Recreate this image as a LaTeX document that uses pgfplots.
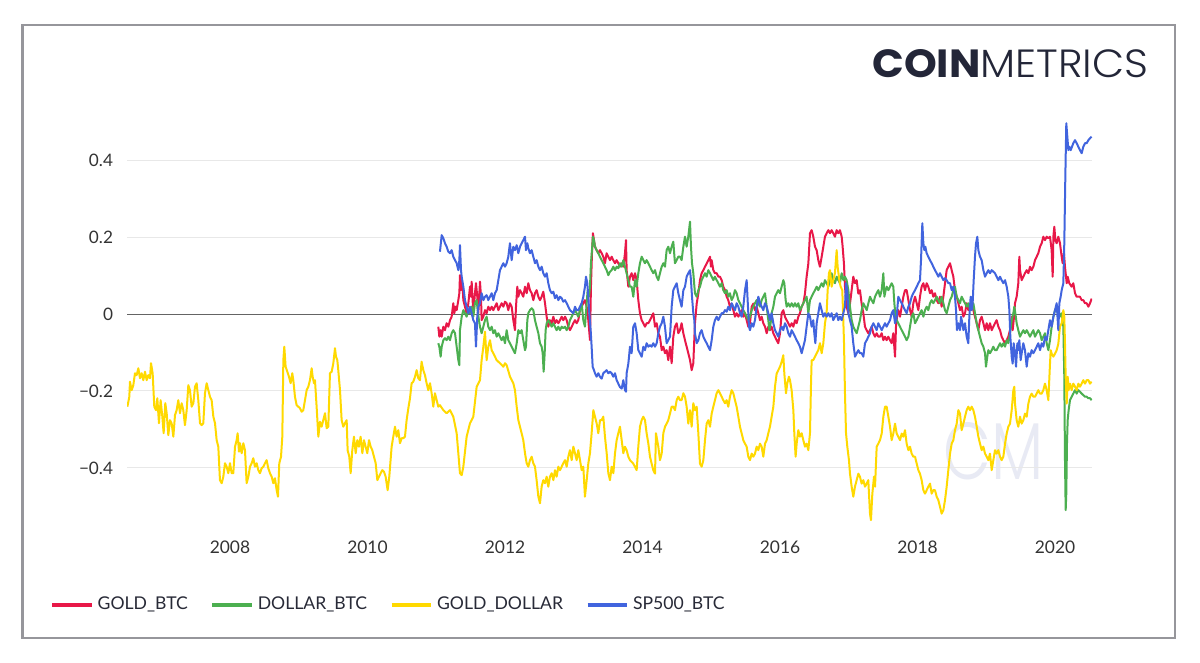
\documentclass[border=0pt]{standalone}
\usepackage{fontspec}
\usepackage{graphicx}
\setmainfont{Lato}
\newfontfamily\logofont{Poppins}
\IfFontExistsTF{Poppins Light}{\newfontfamily\logolight{Poppins Light}}{\newfontfamily\logolight{Poppins}}
\usepackage{pgfplots}
\pgfplotsset{compat=1.18}
\definecolor{cred}{RGB}{232,24,72}
\definecolor{cgreen}{RGB}{76,175,80}
\definecolor{cyellow}{RGB}{255,217,0}
\definecolor{cblue}{RGB}{65,100,222}
\definecolor{gridcol}{RGB}{232,232,232}
\definecolor{zerocol}{RGB}{100,100,100}
\definecolor{ticktext}{RGB}{51,51,51}
\definecolor{legtext}{RGB}{40,42,55}
\definecolor{framecol}{RGB}{150,150,155}
\definecolor{logocol}{RGB}{35,38,56}
\definecolor{wmcol}{RGB}{232,234,244}
\begin{document}
\begin{tikzpicture}[x=1pt,y=1pt]
\useasboundingbox (0,0) rectangle (600,331.5);
\fill[white] (0,0) rectangle (600,331.5);
\draw[color=framecol, line width=1.25pt] (11.25,12.5) rectangle (587.5,319);
\node[anchor=base west, inner sep=0pt, text=logocol] at (436,292.5) {\resizebox{138pt}{14pt}{{\logofont\bfseries COIN}{\logolight METRICS}}};
\node[anchor=south west, inner sep=0pt, text=wmcol] at (471.5,91.5) {\resizebox{50pt}{28.5pt}{\logolight CM}};
\begin{axis}[
  at={(63.5pt,66.8pt)}, anchor=south west,
  scale only axis, width=482.5pt, height=207.7pt,
  xmin=2006.502, xmax=2020.538, ymin=-0.56, ymax=0.52,
  axis line style={draw=none}, tick style={draw=none},
  xtick={2008,2010,2012,2014,2016,2018,2020},
  xticklabels={2008,2010,2012,2014,2016,2018,2020},
  xticklabel style={font=\fontsize{8.7}{10}\selectfont, text=ticktext, inner sep=0pt, anchor=north, yshift=-5.3pt},
  ytick={-0.4,-0.2,0.2,0.4},
  yticklabels={−0.4,−0.2,0.2,0.4},
  extra y ticks={0}, extra y tick labels={0},
  extra y tick style={grid style={color=zerocol, line width=0.5pt}},
  ymajorgrids, grid style={color=gridcol, line width=0.5pt},
  yticklabel style={font=\fontsize{8.6}{10}\selectfont, text=ticktext, inner sep=0pt, anchor=east, xshift=-6.8pt},
  legend columns=4,
  legend cell align=left,
  legend style={at={(-0.0800,-0.1815)}, anchor=west, draw=none, fill=none, inner sep=0pt,
    font=\fontsize{8.8}{10}\selectfont, text=legtext, nodes={inner sep=0pt},
    /tikz/every odd column/.append style={column sep=2pt},
    /tikz/every even column/.append style={column sep=11.25pt}},
  legend image code/.code={\draw[#1, line width=2pt, line cap=butt] (0pt,0pt) -- (19.75pt,0pt);},
]
\addplot[color=cred, line width=1pt, line join=round] coordinates {
(2011.030,-0.033)(2011.045,-0.059)(2011.064,-0.042)(2011.079,-0.059)(2011.103,-0.033)(2011.127,-0.042)(2011.151,-0.024)(2011.176,-0.033)(2011.200,-0.016)(2011.224,-0.007)(2011.248,0.028)(2011.263,0.002)(2011.282,0.019)(2011.297,0.010)(2011.321,0.036)(2011.336,0.054)(2011.345,0.101)(2011.360,0.062)(2011.370,0.088)(2011.384,0.071)(2011.394,0.036)(2011.418,0.019)(2011.442,0.002)(2011.467,0.028)(2011.491,0.071)(2011.505,0.045)(2011.515,0.084)(2011.529,0.036)(2011.539,0.002)(2011.563,0.054)(2011.578,0.080)(2011.597,0.045)(2011.612,0.002)(2011.636,0.084)(2011.651,0.045)(2011.660,-0.016)(2011.685,-0.007)(2011.709,0.010)(2011.733,0.002)(2011.757,0.019)(2011.782,0.010)(2011.806,0.019)(2011.830,0.010)(2011.854,0.019)(2011.879,0.028)(2011.903,0.010)(2011.927,0.019)(2011.951,0.028)(2011.976,0.019)(2012.000,0.032)(2012.024,0.028)(2012.048,0.010)(2012.072,0.028)(2012.097,0.019)(2012.121,-0.016)(2012.145,-0.042)(2012.160,0.019)(2012.179,0.071)(2012.194,0.045)(2012.218,0.062)(2012.242,0.054)(2012.266,0.045)(2012.291,0.071)(2012.315,0.054)(2012.339,0.080)(2012.363,0.062)(2012.388,0.054)(2012.412,0.036)(2012.436,0.054)(2012.460,0.062)(2012.485,0.045)(2012.509,0.036)(2012.533,0.045)(2012.557,0.058)(2012.582,0.028)(2012.606,-0.007)(2012.630,-0.033)(2012.654,-0.016)(2012.679,-0.024)(2012.703,-0.007)(2012.727,-0.024)(2012.751,-0.016)(2012.776,-0.024)(2012.800,-0.016)(2012.824,-0.007)(2012.848,-0.016)(2012.873,-0.007)(2012.897,-0.016)(2012.921,-0.033)(2012.945,-0.042)(2012.970,-0.033)(2012.994,-0.024)(2013.018,-0.016)(2013.042,-0.024)(2013.066,-0.016)(2013.091,0.010)(2013.115,0.019)(2013.139,0.028)(2013.163,0.036)(2013.188,0.019)(2013.212,-0.016)(2013.236,-0.068)(2013.250,0.071)(2013.265,0.158)(2013.279,0.210)(2013.294,0.192)(2013.309,0.175)(2013.333,0.166)(2013.357,0.158)(2013.381,0.166)(2013.406,0.158)(2013.430,0.149)(2013.454,0.132)(2013.478,0.158)(2013.503,0.149)(2013.527,0.140)(2013.551,0.149)(2013.575,0.140)(2013.600,0.132)(2013.624,0.140)(2013.648,0.132)(2013.672,0.123)(2013.697,0.132)(2013.721,0.123)(2013.745,0.158)(2013.760,0.192)(2013.769,0.114)(2013.794,0.071)(2013.818,0.097)
(2013.842,0.106)(2013.866,0.088)(2013.891,0.106)(2013.915,0.088)(2013.939,0.036)(2013.963,0.002)(2013.988,-0.016)(2014.012,-0.024)(2014.036,-0.033)(2014.060,-0.024)(2014.085,-0.024)(2014.109,-0.016)(2014.133,-0.007)(2014.157,0.002)(2014.182,-0.033)(2014.206,-0.024)(2014.230,-0.050)(2014.254,-0.059)(2014.279,-0.094)(2014.303,-0.085)(2014.327,-0.102)(2014.351,-0.094)(2014.375,-0.120)(2014.400,-0.085)(2014.424,-0.128)(2014.448,-0.059)(2014.472,-0.033)(2014.497,-0.024)(2014.521,-0.050)(2014.545,-0.042)(2014.569,-0.024)(2014.594,-0.050)(2014.618,-0.068)(2014.642,-0.085)(2014.666,-0.102)(2014.691,-0.120)(2014.715,-0.146)(2014.739,-0.128)(2014.763,-0.024)(2014.788,0.027)(2014.812,0.053)(2014.836,0.088)(2014.860,0.106)(2014.885,0.114)(2014.909,0.123)(2014.933,0.131)(2014.957,0.140)(2014.982,0.149)(2014.996,0.123)(2015.006,0.140)(2015.030,0.114)(2015.054,0.106)(2015.079,0.106)(2015.103,0.097)(2015.127,0.097)(2015.151,0.088)(2015.175,0.071)(2015.200,0.062)(2015.224,0.045)(2015.248,0.036)(2015.272,0.019)(2015.297,0.027)(2015.321,0.010)(2015.345,-0.007)(2015.369,0.002)(2015.394,-0.007)(2015.418,0.002)(2015.442,0.010)(2015.466,-0.007)(2015.491,0.002)(2015.515,-0.016)(2015.539,-0.033)(2015.563,-0.024)(2015.588,0.019)(2015.612,0.027)(2015.636,0.010)(2015.660,0.019)(2015.685,0.002)(2015.709,-0.016)(2015.733,-0.007)(2015.757,-0.024)(2015.782,-0.033)(2015.806,-0.050)(2015.830,-0.033)(2015.854,-0.042)(2015.878,-0.033)(2015.903,-0.050)(2015.927,-0.059)(2015.951,-0.068)(2015.975,-0.076)(2016.000,-0.050)(2016.024,0.002)(2016.048,0.010)(2016.072,-0.007)(2016.097,-0.016)(2016.121,-0.024)(2016.145,-0.033)(2016.169,-0.024)(2016.194,-0.033)(2016.218,-0.016)(2016.242,-0.024)(2016.266,-0.007)(2016.290,0.002)(2016.315,0.019)(2016.339,0.027)(2016.363,0.053)(2016.387,0.097)(2016.412,0.131)(2016.436,0.210)(2016.460,0.218)(2016.484,0.201)(2016.509,0.175)(2016.533,0.166)(2016.557,0.140)(2016.581,0.123)(2016.606,0.149)(2016.630,0.175)(2016.654,0.201)(2016.678,0.210)(2016.703,0.218)(2016.727,0.210)(2016.751,0.218)(2016.775,0.210)(2016.799,0.201)(2016.824,0.218)(2016.848,0.210)(2016.872,0.218)(2016.897,0.201)(2016.911,0.175)(2016.930,0.131)(2016.945,0.071)(2016.969,0.019)(2016.994,0.002)(2017.018,0.027)(2017.042,0.062)(2017.066,0.097)(2017.091,0.080)(2017.115,0.088)(2017.139,0.053)(2017.163,0.062)(2017.187,0.027)(2017.212,0.002)(2017.236,-0.033)(2017.260,-0.042)(2017.284,-0.050)(2017.309,-0.042)(2017.333,-0.033)(2017.357,-0.050)(2017.382,-0.059)(2017.406,-0.050)(2017.430,-0.059)
(2017.454,-0.059)(2017.479,-0.050)(2017.503,-0.068)(2017.527,-0.059)(2017.551,-0.068)(2017.576,-0.059)(2017.600,-0.068)(2017.624,-0.076)(2017.648,-0.050)(2017.673,-0.111)(2017.687,-0.033)(2017.707,0.002)(2017.721,0.010)(2017.745,-0.007)(2017.770,0.019)(2017.794,0.045)(2017.818,0.062)(2017.842,0.062)(2017.867,0.036)(2017.891,0.010)(2017.915,-0.007)(2017.939,0.028)(2017.964,0.045)(2017.988,0.028)(2018.012,0.010)(2018.036,0.045)(2018.060,0.071)(2018.085,0.080)(2018.109,0.062)(2018.133,0.080)(2018.157,0.071)(2018.182,0.054)(2018.206,0.062)(2018.230,0.045)(2018.254,0.054)(2018.279,0.036)(2018.303,0.028)(2018.327,0.045)(2018.351,0.019)(2018.376,0.045)(2018.400,0.080)(2018.424,0.114)(2018.448,0.123)(2018.473,0.132)(2018.497,0.114)(2018.521,0.097)(2018.545,0.062)(2018.570,0.045)(2018.594,0.028)(2018.618,0.010)(2018.642,0.019)(2018.667,-0.007)(2018.691,0.002)(2018.715,0.028)(2018.739,0.010)(2018.764,0.019)(2018.788,0.036)(2018.812,0.010)(2018.836,-0.007)(2018.861,-0.024)(2018.885,-0.042)(2018.909,-0.016)(2018.933,-0.007)(2018.958,-0.024)(2018.982,-0.042)(2019.006,-0.024)(2019.030,-0.042)(2019.054,-0.024)(2019.079,-0.042)(2019.103,-0.033)(2019.127,-0.024)(2019.151,-0.016)(2019.176,-0.033)(2019.200,-0.042)(2019.224,-0.059)(2019.248,-0.068)(2019.273,-0.076)(2019.297,-0.068)(2019.321,-0.059)(2019.345,-0.042)(2019.370,-0.007)(2019.384,-0.042)(2019.404,-0.007)(2019.418,0.028)(2019.442,0.045)(2019.466,0.080)(2019.481,0.149)(2019.491,0.114)(2019.515,0.088)(2019.539,0.097)(2019.563,0.106)(2019.588,0.114)(2019.612,0.106)(2019.636,0.123)(2019.660,0.114)(2019.685,0.123)(2019.709,0.140)(2019.733,0.149)(2019.757,0.158)(2019.782,0.175)(2019.806,0.184)(2019.830,0.201)(2019.854,0.192)(2019.879,0.201)(2019.903,0.197)(2019.927,0.201)(2019.951,0.166)(2019.966,0.097)(2019.976,0.201)(2019.990,0.227)(2020.005,0.192)(2020.024,0.184)(2020.048,0.201)(2020.072,0.184)(2020.097,0.149)(2020.111,0.132)(2020.130,0.158)(2020.145,0.123)(2020.170,0.080)(2020.184,0.097)(2020.208,0.080)(2020.242,0.071)(2020.266,0.080)(2020.291,0.054)(2020.315,0.045)(2020.339,0.045)(2020.363,0.045)(2020.388,0.036)(2020.412,0.036)(2020.436,0.028)(2020.460,0.028)(2020.485,0.019)(2020.509,0.028)(2020.533,0.040)
};
\addlegendentry{GOLD\_BTC}
\addplot[color=cgreen, line width=1pt, line join=round] coordinates {
(2011.030,-0.076)(2011.045,-0.085)(2011.064,-0.111)(2011.079,-0.085)(2011.103,-0.068)(2011.127,-0.063)(2011.151,-0.068)(2011.176,-0.059)(2011.200,-0.068)(2011.224,-0.050)(2011.248,-0.042)(2011.273,-0.050)(2011.297,-0.085)(2011.321,-0.120)(2011.336,-0.133)(2011.345,-0.042)(2011.370,-0.007)(2011.394,0.010)(2011.418,0.002)(2011.442,-0.007)(2011.467,0.010)(2011.491,0.002)(2011.515,0.019)(2011.539,-0.007)(2011.563,0.028)(2011.588,0.036)(2011.602,0.010)(2011.621,-0.016)(2011.636,-0.033)(2011.660,-0.050)(2011.685,-0.033)(2011.709,-0.016)(2011.733,-0.007)(2011.757,-0.033)(2011.782,-0.042)(2011.806,-0.033)(2011.830,-0.050)(2011.854,-0.042)(2011.879,-0.059)(2011.903,-0.050)(2011.927,-0.059)(2011.951,-0.068)(2011.976,-0.059)(2012.000,-0.076)(2012.024,-0.042)(2012.048,-0.068)(2012.072,-0.076)(2012.097,-0.085)(2012.121,-0.094)(2012.145,-0.102)(2012.170,-0.076)(2012.194,-0.042)(2012.218,-0.050)(2012.242,-0.042)(2012.266,-0.068)(2012.291,-0.094)(2012.305,-0.085)(2012.325,-0.016)(2012.339,0.002)(2012.363,0.010)(2012.388,0.015)(2012.412,0.010)(2012.436,-0.016)(2012.460,-0.033)(2012.485,-0.050)(2012.509,-0.076)(2012.533,-0.085)(2012.548,-0.102)(2012.562,-0.150)(2012.577,-0.102)(2012.591,-0.042)(2012.606,-0.024)(2012.630,-0.016)(2012.654,-0.024)(2012.679,-0.033)(2012.703,-0.024)(2012.727,-0.033)(2012.751,-0.042)(2012.776,-0.033)(2012.800,-0.042)(2012.824,-0.033)(2012.848,-0.037)(2012.873,-0.033)(2012.897,-0.042)(2012.921,-0.033)(2012.945,-0.016)(2012.970,-0.007)(2012.994,0.002)(2013.018,0.010)(2013.042,0.002)(2013.066,-0.007)(2013.091,0.010)(2013.115,0.028)(2013.139,-0.016)(2013.163,-0.033)(2013.188,0.028)(2013.202,0.062)(2013.221,0.045)(2013.236,0.071)(2013.250,0.132)(2013.265,0.166)(2013.279,0.201)(2013.294,0.192)(2013.309,0.175)(2013.333,0.166)(2013.357,0.158)(2013.381,0.149)(2013.406,0.140)(2013.430,0.132)(2013.454,0.123)(2013.478,0.114)(2013.503,0.101)(2013.527,0.110)(2013.551,0.114)(2013.575,0.123)(2013.600,0.114)(2013.624,0.123)(2013.648,0.119)(2013.672,0.132)(2013.697,0.123)(2013.721,0.140)(2013.745,0.123)(2013.769,0.106)(2013.794,0.088)(2013.818,0.071)
(2013.842,0.071)(2013.866,0.045)(2013.891,0.088)(2013.915,0.071)(2013.939,0.106)(2013.963,0.132)(2013.988,0.149)(2014.012,0.140)(2014.036,0.132)(2014.060,0.140)(2014.085,0.132)(2014.109,0.123)(2014.133,0.114)(2014.157,0.106)(2014.182,0.114)(2014.206,0.097)(2014.230,0.088)(2014.254,0.106)(2014.279,0.123)(2014.303,0.132)(2014.327,0.123)(2014.351,0.166)(2014.375,0.175)(2014.400,0.158)(2014.424,0.175)(2014.448,0.188)(2014.472,0.132)(2014.497,0.140)(2014.521,0.149)(2014.545,0.149)(2014.569,0.140)(2014.594,0.175)(2014.618,0.201)(2014.642,0.175)(2014.666,0.201)(2014.691,0.240)(2014.705,0.175)(2014.720,0.132)(2014.739,0.106)(2014.763,0.054)(2014.788,0.045)(2014.812,0.062)(2014.836,0.071)(2014.860,0.088)(2014.885,0.097)(2014.909,0.106)(2014.933,0.097)(2014.957,0.114)(2014.982,0.106)(2015.006,0.097)(2015.030,0.088)(2015.054,0.097)(2015.079,0.088)(2015.103,0.080)(2015.127,0.071)(2015.151,0.080)(2015.175,0.062)(2015.200,0.054)(2015.224,0.062)(2015.248,0.045)(2015.272,0.054)(2015.297,0.036)(2015.321,0.045)(2015.345,0.062)(2015.369,0.054)(2015.394,0.036)(2015.418,0.028)(2015.442,0.019)(2015.466,0.010)(2015.491,0.002)(2015.515,-0.007)(2015.539,-0.016)(2015.563,-0.007)(2015.588,0.010)(2015.612,0.019)(2015.636,0.028)(2015.660,0.036)(2015.685,0.028)(2015.709,0.019)(2015.733,0.036)(2015.757,0.045)(2015.782,0.054)(2015.806,0.019)(2015.830,-0.016)(2015.845,-0.042)(2015.864,-0.024)(2015.878,0.002)(2015.903,0.019)(2015.927,0.045)(2015.951,0.054)(2015.975,0.062)(2016.000,0.054)(2016.024,0.071)(2016.048,0.088)(2016.063,0.080)(2016.082,0.036)(2016.097,0.019)(2016.121,0.028)(2016.145,0.019)(2016.169,0.028)(2016.194,0.019)(2016.218,0.028)(2016.242,0.019)(2016.266,0.028)(2016.290,0.010)(2016.315,0.019)(2016.339,0.028)(2016.363,0.036)(2016.387,0.045)(2016.412,0.002)(2016.436,0.036)(2016.460,0.045)(2016.484,0.054)(2016.509,0.062)(2016.533,0.071)(2016.557,0.062)(2016.581,0.071)(2016.606,0.080)(2016.630,0.071)(2016.654,0.088)(2016.678,0.080)(2016.703,0.071)(2016.727,0.088)(2016.751,0.106)(2016.775,0.088)(2016.799,0.080)(2016.824,0.097)(2016.848,0.088)(2016.872,0.080)(2016.897,0.106)(2016.921,0.088)(2016.945,0.097)(2016.969,0.088)(2016.994,0.062)(2017.018,0.019)(2017.042,-0.016)(2017.066,-0.033)(2017.091,-0.042)(2017.115,-0.050)(2017.139,-0.033)(2017.163,-0.016)
(2017.188,0.010)(2017.212,0.028)(2017.236,0.019)(2017.261,0.010)(2017.285,0.028)(2017.309,0.045)(2017.333,0.036)(2017.358,0.028)(2017.382,0.045)(2017.406,0.054)(2017.430,0.062)(2017.454,0.045)(2017.479,0.062)(2017.503,0.106)(2017.518,0.045)(2017.537,0.062)(2017.551,0.071)(2017.576,0.062)(2017.600,0.071)(2017.624,0.080)(2017.648,0.071)(2017.663,0.028)(2017.682,-0.007)(2017.697,-0.016)(2017.721,-0.024)(2017.745,-0.033)(2017.770,-0.042)(2017.794,-0.050)(2017.818,-0.059)(2017.842,-0.068)(2017.867,-0.059)(2017.891,-0.033)(2017.915,-0.007)(2017.939,0.002)(2017.964,-0.024)(2017.988,-0.016)(2018.012,-0.007)(2018.036,0.002)(2018.060,0.010)(2018.085,-0.007)(2018.109,0.010)(2018.133,0.019)(2018.157,0.010)(2018.182,0.028)(2018.206,0.036)(2018.230,0.028)(2018.254,0.036)(2018.279,0.045)(2018.303,0.036)(2018.327,0.028)(2018.351,0.045)(2018.376,0.028)(2018.400,0.010)(2018.424,0.002)(2018.448,0.019)(2018.473,0.036)(2018.497,0.045)(2018.521,0.062)(2018.545,0.071)(2018.570,0.045)(2018.594,0.036)(2018.618,0.028)(2018.642,0.045)(2018.667,0.036)(2018.691,0.028)(2018.715,0.019)(2018.739,0.028)(2018.764,0.010)(2018.788,0.019)(2018.812,0.028)(2018.836,0.002)(2018.861,-0.024)(2018.885,-0.042)(2018.909,-0.059)(2018.933,-0.076)(2018.958,-0.085)(2018.982,-0.102)(2018.996,-0.137)(2019.015,-0.111)(2019.030,-0.094)(2019.054,-0.102)(2019.079,-0.094)(2019.103,-0.085)(2019.127,-0.094)(2019.151,-0.094)(2019.176,-0.085)(2019.200,-0.076)(2019.224,-0.085)(2019.248,-0.076)(2019.273,-0.085)(2019.297,-0.068)(2019.321,-0.076)(2019.345,-0.050)(2019.370,-0.016)(2019.394,0.002)(2019.408,0.019)(2019.423,0.002)(2019.442,-0.024)(2019.466,-0.042)(2019.491,-0.059)(2019.515,-0.050)(2019.539,-0.042)(2019.563,-0.050)(2019.588,-0.042)(2019.612,-0.050)(2019.636,-0.059)(2019.660,-0.050)(2019.685,-0.042)(2019.709,-0.059)(2019.733,-0.050)(2019.757,-0.042)(2019.782,-0.050)(2019.806,-0.068)(2019.830,-0.059)(2019.854,-0.050)(2019.879,-0.076)(2019.903,-0.094)(2019.927,-0.068)(2019.951,-0.033)(2019.976,-0.007)(2020.000,0.010)(2020.024,0.019)(2020.048,0.010)(2020.072,-0.007)(2020.097,0.002)(2020.121,-0.033)(2020.135,-0.163)(2020.145,-0.380)(2020.155,-0.510)(2020.164,-0.467)(2020.174,-0.337)(2020.184,-0.276)(2020.198,-0.250)(2020.218,-0.224)(2020.242,-0.215)(2020.266,-0.207)(2020.291,-0.198)(2020.315,-0.207)(2020.339,-0.198)(2020.363,-0.202)(2020.388,-0.207)(2020.412,-0.211)(2020.436,-0.215)(2020.460,-0.215)(2020.485,-0.219)(2020.509,-0.219)(2020.533,-0.224)
};
\addlegendentry{DOLLAR\_BTC}
\addplot[color=cyellow, line width=1pt, line join=round] coordinates {
(2006.507,-0.241)(2006.536,-0.215)(2006.545,-0.176)(2006.570,-0.198)(2006.594,-0.185)(2006.618,-0.154)(2006.642,-0.159)(2006.667,-0.141)(2006.691,-0.167)(2006.715,-0.154)(2006.739,-0.172)(2006.764,-0.150)(2006.788,-0.172)(2006.812,-0.159)(2006.836,-0.167)(2006.851,-0.128)(2006.875,-0.154)(2006.899,-0.241)(2006.924,-0.250)(2006.943,-0.219)(2006.967,-0.284)(2006.991,-0.224)(2007.016,-0.267)(2007.035,-0.310)(2007.059,-0.232)(2007.079,-0.258)(2007.103,-0.315)(2007.127,-0.276)(2007.151,-0.284)(2007.176,-0.319)(2007.200,-0.263)(2007.224,-0.250)(2007.248,-0.224)(2007.273,-0.258)(2007.297,-0.232)(2007.321,-0.250)(2007.345,-0.289)(2007.370,-0.250)(2007.394,-0.185)(2007.418,-0.198)(2007.442,-0.241)(2007.467,-0.232)(2007.491,-0.189)(2007.515,-0.180)(2007.539,-0.224)(2007.564,-0.284)(2007.588,-0.289)(2007.612,-0.284)(2007.636,-0.206)(2007.661,-0.180)(2007.685,-0.198)(2007.709,-0.215)(2007.733,-0.224)(2007.758,-0.267)(2007.782,-0.284)(2007.806,-0.328)(2007.830,-0.345)(2007.854,-0.432)(2007.879,-0.440)(2007.903,-0.423)(2007.927,-0.388)(2007.951,-0.397)(2007.976,-0.414)(2008.000,-0.388)(2008.024,-0.414)(2008.048,-0.414)(2008.073,-0.345)(2008.097,-0.328)(2008.111,-0.310)(2008.131,-0.358)(2008.145,-0.336)(2008.170,-0.362)(2008.194,-0.336)(2008.218,-0.354)(2008.242,-0.440)(2008.267,-0.423)(2008.291,-0.397)(2008.315,-0.388)(2008.339,-0.375)(2008.363,-0.397)(2008.388,-0.388)(2008.412,-0.406)(2008.436,-0.414)(2008.460,-0.401)(2008.485,-0.397)(2008.509,-0.388)(2008.533,-0.380)(2008.557,-0.401)(2008.582,-0.414)(2008.606,-0.423)(2008.630,-0.440)(2008.654,-0.427)(2008.679,-0.458)(2008.698,-0.475)(2008.717,-0.388)(2008.742,-0.371)(2008.761,-0.319)(2008.776,-0.120)(2008.790,-0.085)(2008.809,-0.137)(2008.834,-0.150)(2008.858,-0.163)(2008.882,-0.180)(2008.906,-0.154)(2008.921,-0.172)(2008.945,-0.215)(2008.969,-0.237)(2008.994,-0.241)(2009.018,-0.245)(2009.042,-0.254)(2009.066,-0.250)(2009.091,-0.224)(2009.115,-0.198)(2009.139,-0.189)(2009.163,-0.172)(2009.188,-0.141)(2009.202,-0.163)(2009.222,-0.180)(2009.236,-0.172)(2009.260,-0.241)(2009.285,-0.319)(2009.309,-0.280)(2009.333,-0.293)(2009.357,-0.276)(2009.382,-0.258)(2009.406,-0.297)(2009.430,-0.293)(2009.454,-0.154)(2009.479,-0.150)(2009.503,-0.128)(2009.527,-0.089)(2009.542,-0.111)(2009.561,-0.120)(2009.575,-0.146)(2009.600,-0.198)(2009.624,-0.276)(2009.648,-0.293)(2009.672,-0.284)(2009.697,-0.276)(2009.711,-0.354)(2009.735,-0.371)(2009.755,-0.414)(2009.779,-0.354)(2009.803,-0.319)(2009.828,-0.362)(2009.852,-0.328)(2009.876,-0.345)(2009.900,-0.319)(2009.925,-0.362)(2009.949,-0.328)(2009.973,-0.345)(2009.997,-0.362)(2010.022,-0.328)(2010.046,-0.345)(2010.070,-0.354)(2010.094,-0.371)(2010.119,-0.388)(2010.143,-0.432)(2010.167,-0.423)(2010.191,-0.414)(2010.215,-0.406)(2010.240,-0.410)(2010.264,-0.423)(2010.293,-0.458)(2010.317,-0.423)(2010.351,-0.345)(2010.375,-0.319)(2010.400,-0.293)(2010.424,-0.319)(2010.448,-0.302)(2010.472,-0.336)(2010.497,-0.323)(2010.521,-0.323)(2010.545,-0.319)(2010.569,-0.276)(2010.594,-0.245)(2010.618,-0.219)(2010.642,-0.180)(2010.666,-0.176)(2010.691,-0.163)(2010.715,-0.146)(2010.739,-0.167)(2010.763,-0.172)(2010.787,-0.124)(2010.812,-0.146)(2010.836,-0.159)(2010.860,-0.180)(2010.884,-0.198)(2010.909,-0.180)(2010.933,-0.206)(2010.957,-0.241)(2010.981,-0.206)(2011.006,-0.224)(2011.030,-0.241)
(2011.054,-0.237)(2011.103,-0.250)(2011.151,-0.258)(2011.200,-0.250)(2011.248,-0.267)(2011.297,-0.310)(2011.345,-0.414)(2011.370,-0.419)(2011.394,-0.397)(2011.442,-0.319)(2011.491,-0.284)(2011.539,-0.267)(2011.588,-0.189)(2011.636,-0.172)(2011.660,-0.120)(2011.685,-0.085)(2011.709,-0.046)(2011.733,-0.120)(2011.757,-0.085)(2011.782,-0.068)(2011.806,-0.094)(2011.830,-0.102)(2011.879,-0.120)(2011.927,-0.128)(2011.976,-0.137)(2012.000,-0.128)(2012.024,-0.133)(2012.073,-0.163)(2012.121,-0.180)(2012.145,-0.198)(2012.170,-0.241)(2012.194,-0.276)(2012.218,-0.293)(2012.242,-0.310)(2012.266,-0.328)(2012.291,-0.362)(2012.315,-0.388)(2012.339,-0.397)(2012.363,-0.380)(2012.388,-0.371)(2012.412,-0.388)(2012.436,-0.397)(2012.460,-0.432)(2012.485,-0.475)(2012.509,-0.492)(2012.533,-0.449)(2012.557,-0.432)(2012.582,-0.440)(2012.606,-0.423)(2012.630,-0.449)(2012.654,-0.423)(2012.679,-0.414)(2012.703,-0.432)(2012.727,-0.406)(2012.751,-0.423)(2012.776,-0.397)(2012.800,-0.406)(2012.848,-0.388)(2012.873,-0.380)(2012.897,-0.397)(2012.921,-0.371)(2012.945,-0.354)(2012.970,-0.380)(2012.994,-0.345)(2013.018,-0.362)(2013.042,-0.380)(2013.066,-0.354)(2013.091,-0.380)(2013.115,-0.406)(2013.139,-0.397)(2013.163,-0.475)(2013.188,-0.432)(2013.212,-0.388)(2013.236,-0.362)(2013.260,-0.310)(2013.285,-0.250)(2013.309,-0.267)(2013.333,-0.284)(2013.357,-0.310)(2013.382,-0.276)(2013.406,-0.276)(2013.430,-0.267)(2013.454,-0.319)(2013.479,-0.362)(2013.503,-0.414)(2013.527,-0.432)(2013.551,-0.397)(2013.576,-0.414)(2013.600,-0.362)(2013.624,-0.328)(2013.648,-0.310)(2013.672,-0.293)(2013.697,-0.328)(2013.721,-0.362)(2013.745,-0.345)(2013.769,-0.354)(2013.794,-0.371)(2013.818,-0.380)
(2013.866,-0.389)(2013.915,-0.406)(2013.939,-0.345)(2013.963,-0.293)(2013.988,-0.276)(2014.012,-0.267)(2014.036,-0.276)(2014.060,-0.310)(2014.085,-0.337)(2014.109,-0.371)(2014.133,-0.389)(2014.157,-0.406)(2014.182,-0.415)(2014.196,-0.310)(2014.230,-0.345)(2014.254,-0.380)(2014.279,-0.363)(2014.303,-0.310)(2014.327,-0.293)(2014.351,-0.285)(2014.375,-0.276)(2014.400,-0.259)(2014.424,-0.241)(2014.448,-0.241)(2014.472,-0.250)(2014.497,-0.224)(2014.521,-0.215)(2014.545,-0.224)(2014.569,-0.224)(2014.594,-0.206)(2014.618,-0.215)(2014.642,-0.241)(2014.666,-0.285)(2014.691,-0.250)(2014.715,-0.293)(2014.739,-0.232)(2014.763,-0.250)(2014.788,-0.241)(2014.812,-0.310)(2014.836,-0.389)(2014.860,-0.397)(2014.885,-0.380)(2014.909,-0.328)(2014.933,-0.285)(2014.957,-0.276)(2014.982,-0.293)(2015.006,-0.259)(2015.030,-0.241)(2015.054,-0.224)(2015.078,-0.206)(2015.103,-0.198)(2015.127,-0.206)(2015.151,-0.215)(2015.175,-0.224)(2015.200,-0.232)(2015.224,-0.224)(2015.248,-0.241)(2015.272,-0.215)(2015.297,-0.198)(2015.321,-0.206)(2015.345,-0.224)(2015.369,-0.241)(2015.394,-0.267)(2015.418,-0.293)(2015.442,-0.310)(2015.466,-0.328)(2015.491,-0.337)(2015.515,-0.345)(2015.539,-0.371)(2015.563,-0.380)(2015.588,-0.363)(2015.612,-0.371)(2015.636,-0.363)(2015.660,-0.345)(2015.685,-0.354)(2015.709,-0.337)(2015.733,-0.345)(2015.757,-0.371)(2015.782,-0.337)(2015.806,-0.328)(2015.830,-0.310)(2015.854,-0.293)(2015.878,-0.267)(2015.903,-0.241)(2015.927,-0.189)(2015.951,-0.155)(2015.975,-0.146)(2016.000,-0.137)(2016.024,-0.124)(2016.048,-0.107)(2016.063,-0.155)(2016.087,-0.206)(2016.106,-0.180)(2016.130,-0.163)(2016.145,-0.172)(2016.169,-0.198)(2016.194,-0.250)(2016.208,-0.310)(2016.227,-0.371)(2016.242,-0.337)(2016.266,-0.302)(2016.290,-0.319)(2016.315,-0.310)(2016.339,-0.328)(2016.363,-0.345)(2016.387,-0.337)(2016.412,-0.354)(2016.436,-0.310)(2016.450,-0.189)(2016.460,-0.120)(2016.484,-0.120)(2016.509,-0.111)(2016.533,-0.102)(2016.557,-0.094)(2016.581,-0.076)(2016.606,-0.102)(2016.630,-0.076)(2016.654,-0.024)(2016.678,0.002)(2016.693,0.062)(2016.712,0.106)(2016.727,0.114)(2016.751,0.071)(2016.775,0.088)(2016.799,0.106)(2016.824,0.166)(2016.838,0.123)(2016.863,0.088)(2016.882,0.071)(2016.906,0.062)(2016.930,-0.068)(2016.945,-0.206)(2016.960,-0.310)(2016.979,-0.345)(2017.003,-0.380)(2017.018,-0.415)(2017.042,-0.449)(2017.066,-0.475)(2017.090,-0.449)(2017.115,-0.432)(2017.139,-0.415)(2017.163,-0.423)(2017.187,-0.441)(2017.212,-0.432)(2017.236,-0.449)(2017.260,-0.441)(2017.284,-0.432)(2017.309,-0.519)(2017.323,-0.536)(2017.343,-0.467)
(2017.367,-0.423)(2017.382,-0.449)(2017.406,-0.345)(2017.430,-0.337)(2017.454,-0.328)(2017.479,-0.311)(2017.503,-0.267)(2017.527,-0.241)(2017.551,-0.241)(2017.576,-0.267)(2017.600,-0.293)(2017.624,-0.328)(2017.648,-0.311)(2017.673,-0.285)(2017.697,-0.311)(2017.721,-0.319)(2017.745,-0.328)(2017.770,-0.311)(2017.794,-0.319)(2017.818,-0.302)(2017.842,-0.337)(2017.867,-0.354)(2017.891,-0.345)(2017.915,-0.363)(2017.939,-0.371)(2017.964,-0.371)(2017.988,-0.389)(2018.012,-0.406)(2018.036,-0.415)(2018.060,-0.432)(2018.085,-0.458)(2018.109,-0.467)(2018.133,-0.458)(2018.157,-0.449)(2018.182,-0.441)(2018.206,-0.467)(2018.230,-0.458)(2018.254,-0.458)(2018.279,-0.475)(2018.303,-0.484)(2018.327,-0.501)(2018.351,-0.519)(2018.376,-0.510)(2018.400,-0.484)(2018.424,-0.449)(2018.448,-0.406)(2018.473,-0.363)(2018.497,-0.337)(2018.521,-0.328)(2018.545,-0.302)(2018.570,-0.285)(2018.594,-0.250)(2018.618,-0.259)(2018.642,-0.302)(2018.667,-0.285)(2018.691,-0.267)(2018.715,-0.250)(2018.739,-0.241)(2018.764,-0.250)(2018.788,-0.241)(2018.812,-0.250)(2018.836,-0.267)(2018.861,-0.293)(2018.885,-0.319)(2018.909,-0.337)(2018.933,-0.354)(2018.958,-0.345)(2018.982,-0.363)(2019.006,-0.371)(2019.030,-0.380)(2019.054,-0.363)(2019.079,-0.406)(2019.103,-0.380)(2019.127,-0.354)(2019.151,-0.363)(2019.176,-0.354)(2019.200,-0.371)(2019.224,-0.380)(2019.248,-0.371)(2019.273,-0.337)(2019.297,-0.311)(2019.321,-0.293)(2019.345,-0.285)(2019.370,-0.250)(2019.394,-0.198)(2019.408,-0.189)(2019.418,-0.233)(2019.442,-0.276)(2019.466,-0.293)(2019.491,-0.267)(2019.515,-0.285)(2019.539,-0.276)(2019.563,-0.259)(2019.588,-0.267)(2019.612,-0.233)(2019.636,-0.215)(2019.660,-0.207)(2019.685,-0.215)(2019.709,-0.215)(2019.733,-0.207)(2019.757,-0.198)(2019.782,-0.207)(2019.806,-0.207)(2019.830,-0.198)(2019.854,-0.181)(2019.879,-0.198)(2019.903,-0.224)(2019.927,-0.129)(2019.937,-0.094)(2019.951,-0.103)(2019.976,-0.111)(2020.000,-0.103)(2020.024,-0.094)(2020.048,-0.077)(2020.072,-0.033)(2020.097,-0.024)(2020.121,0.010)(2020.135,-0.007)(2020.145,-0.077)(2020.155,-0.163)(2020.170,-0.233)(2020.184,-0.163)(2020.198,-0.198)(2020.218,-0.181)(2020.242,-0.198)(2020.266,-0.181)(2020.291,-0.189)(2020.315,-0.198)(2020.339,-0.181)(2020.363,-0.189)(2020.388,-0.181)(2020.412,-0.172)(2020.436,-0.181)(2020.460,-0.172)(2020.485,-0.172)(2020.509,-0.181)(2020.533,-0.176)
};
\addlegendentry{GOLD\_DOLLAR}
\addplot[color=cblue, line width=1pt, line join=round] coordinates {
(2011.054,0.162)(2011.079,0.205)(2011.103,0.197)(2011.127,0.184)(2011.151,0.175)(2011.176,0.162)(2011.200,0.158)(2011.224,0.166)(2011.248,0.149)(2011.273,0.140)(2011.297,0.132)(2011.321,0.114)(2011.336,0.140)(2011.345,0.179)(2011.360,0.114)(2011.370,0.097)(2011.394,0.071)(2011.418,0.036)(2011.442,0.019)(2011.467,0.002)(2011.491,0.019)(2011.515,0.002)(2011.539,-0.016)(2011.563,-0.024)(2011.578,-0.085)(2011.597,-0.007)(2011.612,0.019)(2011.636,0.028)(2011.660,0.054)(2011.685,0.036)(2011.709,0.045)(2011.733,0.049)(2011.757,0.036)(2011.782,0.045)(2011.806,0.054)(2011.830,0.036)(2011.854,0.054)(2011.879,0.062)(2011.903,0.088)(2011.927,0.114)(2011.951,0.123)(2011.976,0.132)(2012.000,0.123)(2012.024,0.132)(2012.048,0.149)(2012.072,0.184)(2012.097,0.140)(2012.121,0.175)(2012.145,0.166)(2012.170,0.179)(2012.194,0.158)(2012.218,0.175)(2012.242,0.184)(2012.266,0.192)(2012.291,0.201)(2012.305,0.166)(2012.325,0.184)(2012.339,0.171)(2012.363,0.158)(2012.388,0.166)(2012.412,0.149)(2012.436,0.132)(2012.460,0.140)(2012.485,0.123)(2012.509,0.114)(2012.533,0.123)(2012.557,0.106)(2012.582,0.097)(2012.606,0.106)(2012.630,0.080)(2012.654,0.062)(2012.679,0.054)(2012.703,0.058)(2012.727,0.041)(2012.751,0.049)(2012.776,0.036)(2012.800,0.045)(2012.824,0.041)(2012.848,0.032)(2012.873,0.036)(2012.897,0.028)(2012.921,0.019)(2012.945,0.010)(2012.970,0.006)(2012.994,0.002)(2013.018,0.019)(2013.042,0.010)(2013.066,0.010)(2013.091,0.019)(2013.115,0.028)(2013.139,0.045)(2013.163,0.071)(2013.178,0.097)(2013.197,0.080)(2013.212,0.045)(2013.226,0.002)(2013.246,-0.042)(2013.260,-0.085)(2013.275,-0.137)(2013.294,-0.146)(2013.309,-0.154)(2013.333,-0.163)(2013.357,-0.154)(2013.381,-0.163)(2013.406,-0.168)(2013.430,-0.154)(2013.454,-0.150)(2013.478,-0.146)(2013.503,-0.154)(2013.527,-0.150)(2013.551,-0.154)(2013.575,-0.163)(2013.600,-0.154)(2013.624,-0.172)(2013.648,-0.181)(2013.672,-0.190)(2013.697,-0.194)(2013.721,-0.172)(2013.745,-0.198)(2013.760,-0.202)(2013.769,-0.154)(2013.794,-0.129)(2013.818,-0.085)
(2013.842,-0.102)(2013.866,-0.033)(2013.891,-0.024)(2013.915,-0.050)(2013.939,-0.094)(2013.963,-0.102)(2013.988,-0.111)(2014.012,-0.085)(2014.036,-0.094)(2014.060,-0.076)(2014.085,-0.085)(2014.109,-0.081)(2014.133,-0.085)(2014.157,-0.076)(2014.182,-0.085)(2014.206,-0.076)(2014.230,-0.050)(2014.254,-0.033)(2014.279,-0.024)(2014.303,-0.007)(2014.327,-0.033)(2014.351,-0.076)(2014.375,-0.068)(2014.400,-0.059)(2014.424,0.019)(2014.448,0.062)(2014.472,0.071)(2014.497,0.080)(2014.521,0.054)(2014.545,0.036)(2014.569,0.019)(2014.594,0.062)(2014.618,0.071)(2014.642,0.097)(2014.666,0.106)(2014.691,0.114)(2014.705,0.088)(2014.720,0.045)(2014.739,0.002)(2014.754,-0.016)(2014.763,-0.050)(2014.788,-0.076)(2014.812,-0.068)(2014.836,-0.050)(2014.860,-0.042)(2014.885,-0.059)(2014.909,-0.068)(2014.933,-0.076)(2014.957,-0.085)(2014.982,-0.094)(2015.006,-0.068)(2015.030,-0.033)(2015.054,-0.016)(2015.079,-0.007)(2015.103,-0.016)(2015.127,-0.007)(2015.151,0.002)(2015.175,0.002)(2015.200,0.010)(2015.224,0.006)(2015.248,0.019)(2015.272,0.010)(2015.297,0.028)(2015.321,0.019)(2015.345,0.010)(2015.369,0.028)(2015.394,0.019)(2015.418,0.002)(2015.442,-0.007)(2015.466,0.019)(2015.491,0.062)(2015.515,0.088)(2015.529,0.036)(2015.549,-0.033)(2015.563,-0.042)(2015.588,-0.024)(2015.612,-0.033)(2015.636,-0.016)(2015.660,0.019)(2015.685,0.045)(2015.709,0.028)(2015.733,0.019)(2015.757,0.010)(2015.782,0.028)(2015.806,0.019)(2015.830,0.002)(2015.854,-0.016)(2015.878,0.002)(2015.903,-0.024)(2015.927,-0.042)(2015.951,-0.050)(2015.975,-0.059)(2016.000,-0.042)(2016.024,-0.033)(2016.048,-0.042)(2016.072,-0.024)(2016.097,-0.033)(2016.121,-0.050)(2016.145,-0.059)(2016.169,-0.042)(2016.194,-0.050)(2016.218,-0.059)(2016.242,-0.068)(2016.266,-0.076)(2016.290,-0.085)(2016.315,-0.102)(2016.339,-0.085)(2016.363,-0.068)(2016.387,-0.033)(2016.412,0.002)(2016.436,-0.007)(2016.460,-0.033)(2016.484,-0.016)(2016.499,-0.050)(2016.514,-0.076)(2016.533,-0.024)(2016.557,0.002)(2016.581,0.028)(2016.606,0.010)(2016.630,-0.007)(2016.654,0.002)(2016.678,-0.007)(2016.703,0.002)(2016.727,-0.007)(2016.751,0.002)(2016.775,-0.016)(2016.799,-0.007)(2016.824,0.002)(2016.848,-0.016)(2016.872,-0.007)(2016.897,-0.016)(2016.921,0.002)(2016.945,0.019)(2016.960,0.080)(2016.979,0.062)(2016.994,0.002)(2017.018,-0.016)(2017.042,-0.033)(2017.066,-0.076)(2017.091,-0.111)(2017.115,-0.102)(2017.139,-0.094)(2017.163,-0.102)
(2017.188,-0.102)(2017.212,-0.111)(2017.236,-0.076)(2017.261,-0.068)(2017.285,-0.059)(2017.309,-0.050)(2017.333,-0.033)(2017.358,-0.024)(2017.382,-0.033)(2017.406,-0.042)(2017.430,-0.024)(2017.454,-0.033)(2017.479,-0.042)(2017.503,-0.033)(2017.527,-0.024)(2017.551,-0.033)(2017.576,-0.024)(2017.600,-0.016)(2017.624,0.002)(2017.648,0.010)(2017.673,-0.024)(2017.697,-0.007)(2017.721,0.045)(2017.745,0.036)(2017.770,0.028)(2017.794,0.019)(2017.818,0.010)(2017.842,0.002)(2017.867,0.019)(2017.891,0.028)(2017.915,0.045)(2017.939,0.054)(2017.964,0.062)(2017.988,0.071)(2018.012,0.080)(2018.036,0.088)(2018.051,0.140)(2018.070,0.236)(2018.085,0.184)(2018.099,0.166)(2018.114,0.175)(2018.133,0.158)(2018.157,0.149)(2018.182,0.140)(2018.206,0.132)(2018.230,0.123)(2018.254,0.114)(2018.279,0.106)(2018.303,0.097)(2018.327,0.106)(2018.351,0.097)(2018.376,0.088)(2018.400,0.093)(2018.424,0.088)(2018.448,0.080)(2018.473,0.080)(2018.497,0.062)(2018.521,0.071)(2018.545,0.045)(2018.560,0.010)(2018.574,-0.042)(2018.594,-0.024)(2018.618,-0.042)(2018.633,-0.007)(2018.652,-0.024)(2018.667,-0.042)(2018.691,-0.024)(2018.715,-0.059)(2018.739,-0.076)(2018.754,-0.007)(2018.773,0.045)(2018.788,0.010)(2018.802,0.028)(2018.817,0.088)(2018.836,0.149)(2018.851,0.184)(2018.870,0.201)(2018.885,0.166)(2018.909,0.149)(2018.933,0.140)(2018.958,0.114)(2018.982,0.097)(2019.006,0.106)(2019.030,0.114)(2019.054,0.106)(2019.079,0.114)(2019.103,0.110)(2019.127,0.106)(2019.151,0.097)(2019.176,0.088)(2019.200,0.097)(2019.224,0.088)(2019.248,0.080)(2019.273,0.088)(2019.297,0.071)(2019.321,0.045)(2019.336,0.010)(2019.350,-0.059)(2019.370,-0.111)(2019.384,-0.129)(2019.399,-0.076)(2019.418,-0.102)(2019.433,-0.137)(2019.452,-0.076)(2019.466,-0.094)(2019.481,-0.068)(2019.500,-0.120)(2019.515,-0.102)(2019.539,-0.076)(2019.563,-0.094)(2019.588,-0.137)(2019.612,-0.102)(2019.636,-0.111)(2019.660,-0.094)(2019.685,-0.102)(2019.709,-0.094)(2019.733,-0.085)(2019.757,-0.076)(2019.782,-0.094)(2019.806,-0.076)(2019.830,-0.085)(2019.854,-0.059)(2019.879,-0.068)(2019.903,-0.042)(2019.927,-0.016)(2019.951,-0.033)(2019.976,-0.007)(2020.000,0.010)(2020.024,0.028)(2020.048,-0.042)(2020.063,0.028)(2020.082,0.045)(2020.097,0.062)(2020.121,0.080)(2020.135,0.184)(2020.150,0.357)(2020.164,0.496)(2020.179,0.461)(2020.194,0.426)(2020.208,0.435)(2020.228,0.426)(2020.247,0.435)(2020.266,0.444)(2020.291,0.452)(2020.315,0.444)(2020.339,0.435)(2020.363,0.426)(2020.388,0.418)(2020.412,0.435)(2020.436,0.444)(2020.460,0.444)(2020.485,0.452)(2020.509,0.457)(2020.533,0.461)
};
\addlegendentry{SP500\_BTC}
\end{axis}
\end{tikzpicture}
\end{document}
